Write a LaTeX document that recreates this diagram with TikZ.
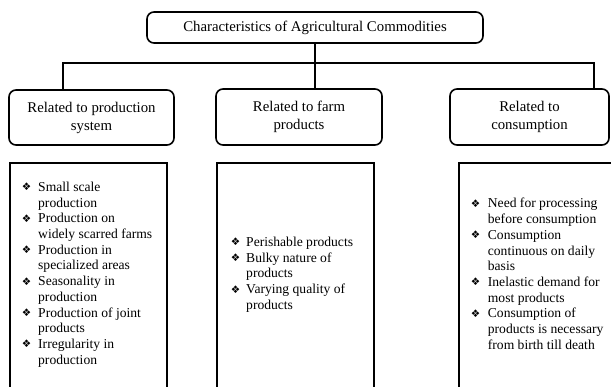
\documentclass[tikz,border=0pt]{standalone}
\usepackage{fontspec}
\setmainfont{Liberation Serif}
\newfontfamily\symfont{DejaVu Sans}
\usepackage{tikz}

\tikzset{
    headbox/.style={draw, line width=1.6pt, rounded corners=7pt, align=center,
        inner sep=0pt, font=\fontsize{14.8}{18}\selectfont},
    listframe/.style={line width=1.6pt},
    listtext/.style={anchor=base west, inner sep=0pt,
        font=\fontsize{13.6}{15.7}\selectfont},
    link/.style={line width=1.6pt},
}
\newcommand{\bul}{\raisebox{0.5pt}{\symfont\fontsize{10.5}{10.5}\selectfont ❖}}

\begin{document}
\begin{tikzpicture}[x=1pt,y=-1pt]
        \useasboundingbox (0,0) rectangle (611,387);
        % heading boxes
        \node[headbox, minimum width=336pt, minimum height=31pt] (top) at (315,27.5)
            {Characteristics of Agricultural Commodities};
        \node[headbox, minimum width=165pt, minimum height=55pt] (prod) at (91.5,117.5)
            {Related to production\\system};
        \node[headbox, minimum width=166pt, minimum height=56pt] (farm) at (299,117)
            {Related to farm\\products};
        \node[headbox, minimum width=159pt, minimum height=56pt] (cons) at (529.5,117)
            {Related to\\consumption};
        % connectors
        \coordinate (barL) at (63,63);
        \coordinate (barR) at (594,63);
        \draw[link] (top.south) -- (top.south |- farm.north);
        \draw[link] (prod.north -| barL) |- (barR) -- (barR |- cons.north);
        % list frames, open at the bottom
        \draw[listframe] (10,390) |- (167,163) -- (167,390);
        \draw[listframe] (217,390) |- (374,163) -- (374,390);
        \draw[listframe] (459,390) |- (615,163);
        % lists
        \node[listtext] (prodlist) at (21.7,191.5) {\begin{tabular}[t]{@{}p{16.3pt}@{}l@{}}
            \bul & Small scale\\
                 & production\\
            \bul & Production on\\
                 & widely scarred farms\\
            \bul & Production in\\
                 & specialized areas\\
            \bul & Seasonality in\\
                 & production\\
            \bul & Production of joint\\
                 & products\\
            \bul & Irregularity in\\
                 & production
        \end{tabular}};
        \node[listtext] (farmlist) at (230.7,246.5) {\begin{tabular}[t]{@{}p{15.3pt}@{}l@{}}
            \bul & Perishable products\\
            \bul & Bulky nature of\\
                 & products\\
            \bul & Varying quality of\\
                 & products
        \end{tabular}};
        \node[listtext] (conslist) at (470.7,208) {\begin{tabular}[t]{@{}p{17pt}@{}l@{}}
            \bul & Need for processing\\
                 & before consumption\\
            \bul & Consumption\\
                 & continuous on daily\\
                 & basis\\
            \bul & Inelastic demand for\\
                 & most products\\
            \bul & Consumption of\\
                 & products is necessary\\
                 & from birth till death
        \end{tabular}};
    \end{tikzpicture}
\end{document}
